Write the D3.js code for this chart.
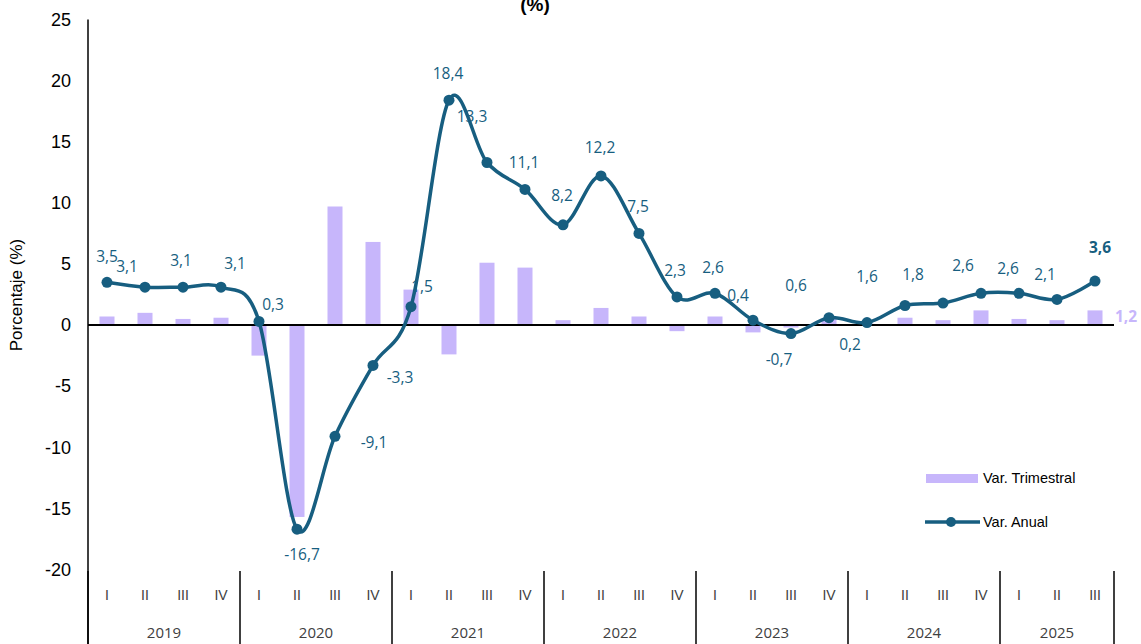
<!DOCTYPE html>
<html>
<head>
<meta charset="utf-8">
<script src="https://cdn.jsdelivr.net/npm/d3@7"></script>
<style>
  body { margin: 0; background: #fff; }
  svg { display: block; }
</style>
</head>
<body>
<script>
// Var. trimestral (barras) y Var. anual (linea), 2019 I - 2025 III
var years = ["2019", "2020", "2021", "2022", "2023", "2024", "2025"];
var quartersPerYear = [4, 4, 4, 4, 4, 4, 3];
var quarters = ["I", "II", "III", "IV", "I", "II", "III", "IV", "I", "II", "III", "IV",
                "I", "II", "III", "IV", "I", "II", "III", "IV", "I", "II", "III", "IV",
                "I", "II", "III"];

var varTrimestral = [0.7, 1.0, 0.5, 0.6, -2.5, -15.7, 9.7, 6.8, 2.9, -2.4, 5.1, 4.7,
                     0.4, 1.4, 0.7, -0.5, 0.7, -0.6, -0.2, 0.5, 0.1, 0.6, 0.4, 1.2,
                     0.5, 0.4, 1.2];
var varAnual = [3.5, 3.1, 3.1, 3.1, 0.3, -16.7, -9.1, -3.3, 1.5, 18.4, 13.3, 11.1,
                8.2, 12.2, 7.5, 2.3, 2.6, 0.4, -0.7, 0.6, 0.2, 1.6, 1.8, 2.6,
                2.6, 2.1, 3.6];
var yTicks = [-20, -15, -10, -5, 0, 5, 10, 15, 20, 25];

// desplazamiento de cada etiqueta de la linea respecto a su punto
var labelDx = [0, -18, -2, 14, 14, 5, 39, 27, 11, -1, -15, -1, -1, -1, -1, -2, -2,
               -15, -12, -33, -17, -38, -30, -18, -11, -12, 5];
var labelDy = [-26, -21, -27, -24, -17, 25, 6, 12, -20, -27, -46, -27, -29, -28, -27, -26, -26,
               -25, 26, -32, 22, -29, -28, -28, -25, -25, -33];

var width = 1141;
var height = 644;
var left = 88;
var step = 38;
var lineColor = "#175e80";
var barColor = "#c7b6fb";

var svg = d3.select("body")
            .append("svg")
            .attr("width", width)
            .attr("height", height);

var x = d3.scaleBand()
          .domain(d3.range(quarters.length))
          .range([left, left + step * quarters.length]);

var y = d3.scaleLinear()
          .domain([-20, 25])
          .range([569.5, 19.5]);

var fmt = function(v)
{
  return v.toFixed(1).replace(".", ",");
};

/*titulo (cortado arriba)*/
svg.append("text")
   .attr("x", 535)
   .attr("y", 11)
   .attr("text-anchor", "middle")
   .attr("font-family", "Liberation Sans, Arial, sans-serif")
   .attr("font-weight", "bold")
   .attr("font-size", 19)
   .text("(%)");

/*eje y*/
svg.append("line")
   .attr("x1", left).attr("x2", left)
   .attr("y1", y(25)).attr("y2", height)
   .attr("stroke", "#000")
   .attr("stroke-width", 1.5);

svg.selectAll(".ytick")
   .data(yTicks)
   .enter()
   .append("text")
   .attr("class", "ytick")
   .attr("x", 71)
   .attr("y", function(d) { return y(d); })
   .attr("dy", "0.35em")
   .attr("text-anchor", "end")
   .attr("font-family", "Liberation Sans, Arial, sans-serif")
   .attr("font-size", 18)
   .attr("fill", "#000")
   .text(function(d) { return d; });

svg.append("text")
   .attr("transform", "translate(22," + 295 + ") rotate(-90)")
   .attr("text-anchor", "middle")
   .attr("font-family", "Liberation Sans, Arial, sans-serif")
   .attr("font-size", 17)
   .attr("fill", "#000")
   .text("Porcentaje (%)");

/*barras*/
var barW = 15;
svg.selectAll(".bar")
   .data(varTrimestral)
   .enter()
   .append("rect")
   .attr("class", "bar")
   .attr("x", function(d, i) { return x(i) + x.bandwidth() / 2 - barW / 2; })
   .attr("y", function(d) { return y(Math.max(0, d)); })
   .attr("width", barW)
   .attr("height", function(d) { return Math.abs(y(d) - y(0)); })
   .attr("fill", barColor);

/*linea del cero*/
svg.append("line")
   .attr("x1", left).attr("x2", left + step * quarters.length)
   .attr("y1", y(0)).attr("y2", y(0))
   .attr("stroke", "#000")
   .attr("stroke-width", 2);

/*etiquetas de categoria*/
svg.selectAll(".qlab")
   .data(quarters)
   .enter()
   .append("text")
   .attr("class", "qlab")
   .attr("x", function(d, i) { return x(i) + x.bandwidth() / 2; })
   .attr("y", 600)
   .attr("text-anchor", "middle")
   .attr("font-family", "Liberation Sans, Arial, sans-serif")
   .attr("font-size", 14)
   .attr("fill", "#404040")
   .text(function(d) { return d; });

var starts = [0];
quartersPerYear.forEach(function(n, i) { starts.push(starts[i] + n); });

svg.selectAll(".ysep")
   .data(starts)
   .enter()
   .append("line")
   .attr("class", "ysep")
   .attr("x1", function(d) { return left + d * step; })
   .attr("x2", function(d) { return left + d * step; })
   .attr("y1", 571)
   .attr("y2", height)
   .attr("stroke", "#000")
   .attr("stroke-width", 1.5);

svg.selectAll(".yearlab")
   .data(years)
   .enter()
   .append("text")
   .attr("class", "yearlab")
   .attr("x", function(d, i) { return left + (starts[i] + quartersPerYear[i] / 2) * step; })
   .attr("y", 638)
   .attr("text-anchor", "middle")
   .attr("font-family", "Open Sans, sans-serif")
   .attr("font-size", 15)
   .attr("fill", "#404040")
   .text(function(d) { return d; });

/*linea anual*/
var line = d3.line()
             .x(function(d, i) { return x(i) + x.bandwidth() / 2; })
             .y(function(d) { return y(d); })
             .curve(d3.curveCatmullRom.alpha(0));

svg.append("path")
   .datum(varAnual)
   .attr("d", line)
   .attr("fill", "none")
   .attr("stroke", lineColor)
   .attr("stroke-width", 3.5);

svg.selectAll(".dot")
   .data(varAnual)
   .enter()
   .append("circle")
   .attr("class", "dot")
   .attr("cx", function(d, i) { return x(i) + x.bandwidth() / 2; })
   .attr("cy", function(d) { return y(d); })
   .attr("r", 5.5)
   .attr("fill", lineColor);

svg.selectAll(".vlab")
   .data(varAnual)
   .enter()
   .append("text")
   .attr("class", "vlab")
   .attr("x", function(d, i) { return x(i) + x.bandwidth() / 2 + labelDx[i]; })
   .attr("y", function(d, i) { return y(d) + labelDy[i]; })
   .attr("dy", "0.35em")
   .attr("text-anchor", "middle")
   .attr("font-family", "Open Sans, sans-serif")
   .attr("font-size", 15.5)
   .attr("font-weight", function(d, i) { return i === varAnual.length - 1 ? "bold" : "normal"; })
   .attr("fill", lineColor)
   .text(function(d) { return fmt(d); });

/*etiqueta ultima barra*/
var last = varTrimestral.length - 1;
svg.append("text")
   .attr("x", x(last) + x.bandwidth() / 2 + 31)
   .attr("y", y(0) - 8)
   .attr("dy", "0.35em")
   .attr("text-anchor", "middle")
   .attr("font-family", "Open Sans, sans-serif")
   .attr("font-size", 15.5)
   .attr("font-weight", "bold")
   .attr("fill", barColor)
   .text(fmt(varTrimestral[last]));

/*leyenda*/
var legend = svg.append("g");

legend.append("rect")
      .attr("x", 926)
      .attr("y", 474)
      .attr("width", 52)
      .attr("height", 9)
      .attr("fill", barColor);

legend.append("text")
      .attr("x", 983)
      .attr("y", 478)
      .attr("dy", "0.35em")
      .attr("font-family", "Liberation Sans, Arial, sans-serif")
      .attr("font-size", 14.5)
      .attr("fill", "#000")
      .text("Var. Trimestral");

legend.append("line")
      .attr("x1", 925).attr("x2", 980)
      .attr("y1", 522).attr("y2", 522)
      .attr("stroke", lineColor)
      .attr("stroke-width", 3.5);

legend.append("circle")
      .attr("cx", 951)
      .attr("cy", 522)
      .attr("r", 5)
      .attr("fill", lineColor);

legend.append("text")
      .attr("x", 983)
      .attr("y", 522)
      .attr("dy", "0.35em")
      .attr("font-family", "Liberation Sans, Arial, sans-serif")
      .attr("font-size", 14.5)
      .attr("fill", "#000")
      .text("Var. Anual");
</script>
</body>
</html>
